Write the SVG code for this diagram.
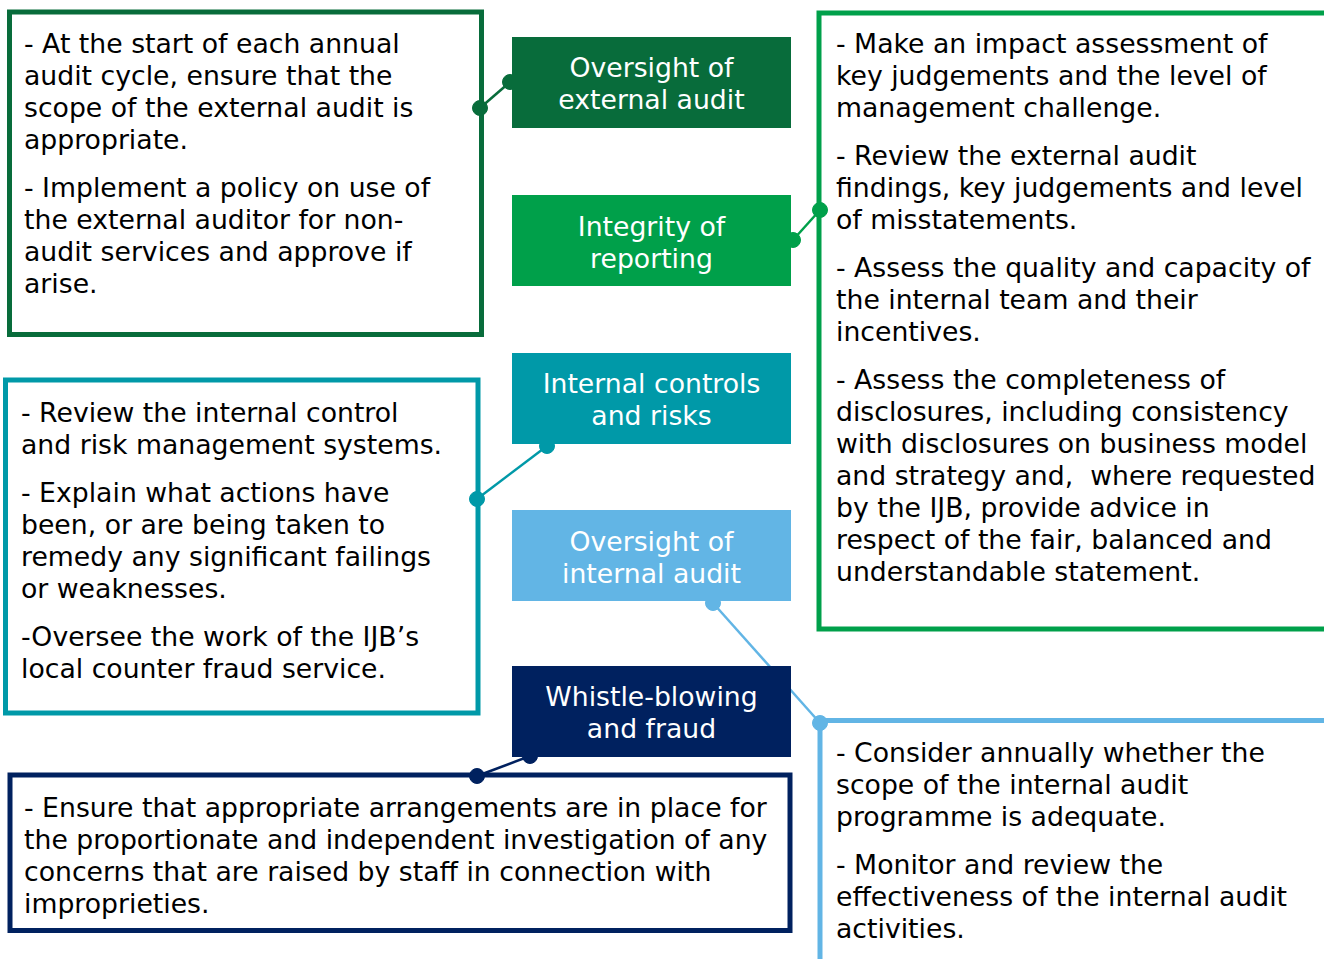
<svg xmlns="http://www.w3.org/2000/svg" width="1324" height="959" viewBox="0 0 1324 959">
<style>
text { font-family: "DejaVu Sans", Verdana, sans-serif; font-size: 26.7px; }
.body { fill: #000000; }
.title { fill: #ffffff; text-anchor: middle; }
.box { fill: #ffffff; stroke-width: 5; }
.dkg { stroke: #086c3b; fill: #086c3b; }
.grn { stroke: #00a04a; fill: #00a04a; }
.teal { stroke: #0099a8; fill: #0099a8; }
.lb { stroke: #62b5e5; fill: #62b5e5; }
.navy { stroke: #00215f; fill: #00215f; }
.conn line { stroke-width: 2.5; }
</style>

<g id="box-external-audit">
<rect class="box" x="9.5" y="12" width="472" height="322.5" style="stroke:#086c3b"/>
<text class="body" x="24" y="53">- At the start of each annual</text>
<text class="body" x="24" y="85">audit cycle, ensure that the</text>
<text class="body" x="24" y="117">scope of the external audit is</text>
<text class="body" x="24" y="149">appropriate.</text>
<text class="body" x="24" y="197">- Implement a policy on use of</text>
<text class="body" x="24" y="229">the external auditor for non-</text>
<text class="body" x="24" y="261">audit services and approve if</text>
<text class="body" x="24" y="293">arise.</text>
</g>

<g id="box-internal-controls">
<rect class="box" x="5.5" y="380" width="472.5" height="333" style="stroke:#0099a8"/>
<text class="body" x="21" y="422">- Review the internal control</text>
<text class="body" x="21" y="454">and risk management systems.</text>
<text class="body" x="21" y="502">- Explain what actions have</text>
<text class="body" x="21" y="534">been, or are being taken to</text>
<text class="body" x="21" y="566">remedy any significant failings</text>
<text class="body" x="21" y="598">or weaknesses.</text>
<text class="body" x="21" y="646">-Oversee the work of the IJB’s</text>
<text class="body" x="21" y="678">local counter fraud service.</text>
</g>

<g id="box-whistle">
<rect class="box" x="10" y="775" width="780" height="155.5" style="stroke:#00215f"/>
<text class="body" x="24" y="817">- Ensure that appropriate arrangements are in place for</text>
<text class="body" x="24" y="849">the proportionate and independent investigation of any</text>
<text class="body" x="24" y="881">concerns that are raised by staff in connection with</text>
<text class="body" x="24" y="913">improprieties.</text>
</g>

<g id="box-integrity">
<rect class="box" x="819" y="13" width="520" height="616" style="stroke:#00a04a"/>
<text class="body" x="836" y="53">- Make an impact assessment of</text>
<text class="body" x="836" y="85">key judgements and the level of</text>
<text class="body" x="836" y="117">management challenge.</text>
<text class="body" x="836" y="165">- Review the external audit</text>
<text class="body" x="836" y="197">findings, key judgements and level</text>
<text class="body" x="836" y="229">of misstatements.</text>
<text class="body" x="836" y="277">- Assess the quality and capacity of</text>
<text class="body" x="836" y="309">the internal team and their</text>
<text class="body" x="836" y="341">incentives.</text>
<text class="body" x="836" y="389">- Assess the completeness of</text>
<text class="body" x="836" y="421">disclosures, including consistency</text>
<text class="body" x="836" y="453">with disclosures on business model</text>
<text class="body" x="836" y="485" xml:space="preserve">and strategy and,  where requested</text>
<text class="body" x="836" y="517">by the IJB, provide advice in</text>
<text class="body" x="836" y="549">respect of the fair, balanced and</text>
<text class="body" x="836" y="581">understandable statement.</text>
</g>

<g id="box-internal-audit">
<rect class="box" x="820" y="720.5" width="520" height="260" style="stroke:#62b5e5"/>
<text class="body" x="836" y="762">- Consider annually whether the</text>
<text class="body" x="836" y="794">scope of the internal audit</text>
<text class="body" x="836" y="826">programme is adequate.</text>
<text class="body" x="836" y="874">- Monitor and review the</text>
<text class="body" x="836" y="906">effectiveness of the internal audit</text>
<text class="body" x="836" y="938">activities.</text>
</g>

<g id="connectors" class="conn">
<line class="dkg" x1="480" y1="108" x2="510" y2="82"/>
<circle class="dkg" cx="480" cy="108" r="7.5"/>
<circle class="dkg" cx="510" cy="82" r="7.5"/>
<line class="grn" x1="793" y1="240" x2="820" y2="210"/>
<circle class="grn" cx="793" cy="240" r="7.5"/>
<circle class="grn" cx="820" cy="210" r="7.5"/>
<line class="teal" x1="547" y1="446" x2="477" y2="499"/>
<circle class="teal" cx="547" cy="446" r="7.5"/>
<circle class="teal" cx="477" cy="499" r="7.5"/>
<line class="lb" x1="713" y1="603" x2="820" y2="723"/>
<circle class="lb" cx="713" cy="603" r="7.5"/>
<circle class="lb" cx="820" cy="723" r="7.5"/>
<line class="navy" x1="530" y1="756" x2="477" y2="776"/>
<circle class="navy" cx="530" cy="756" r="7.5"/>
<circle class="navy" cx="477" cy="776" r="7.5"/>
</g>

<g id="node-oversight-external">
<rect x="512" y="37" width="279" height="91" fill="#086c3b"/>
<text class="title" x="651.5" y="77">Oversight of</text>
<text class="title" x="651.5" y="109">external audit</text>
</g>
<g id="node-integrity">
<rect x="512" y="195" width="279" height="91" fill="#00a04a"/>
<text class="title" x="651.5" y="236">Integrity of</text>
<text class="title" x="651.5" y="268">reporting</text>
</g>
<g id="node-internal-controls">
<rect x="512" y="353" width="279" height="91" fill="#0099a8"/>
<text class="title" x="651.5" y="393">Internal controls</text>
<text class="title" x="651.5" y="425">and risks</text>
</g>
<g id="node-oversight-internal">
<rect x="512" y="510" width="279" height="91" fill="#62b5e5"/>
<text class="title" x="651.5" y="551">Oversight of</text>
<text class="title" x="651.5" y="583">internal audit</text>
</g>
<g id="node-whistle">
<rect x="512" y="666" width="279" height="91" fill="#00215f"/>
<text class="title" x="651.5" y="706">Whistle-blowing</text>
<text class="title" x="651.5" y="738">and fraud</text>
</g>
</svg>
